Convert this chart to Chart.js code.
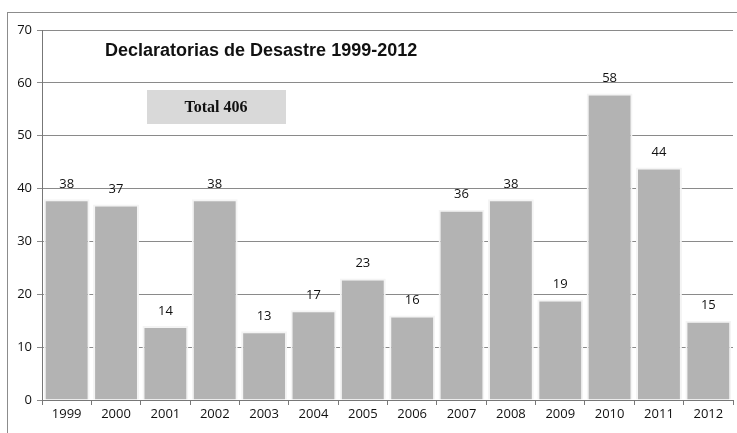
<!DOCTYPE html>
<html>
<head>
<meta charset="utf-8">
<script src="https://cdn.jsdelivr.net/npm/chart.js@4"></script>
<style>
  html, body { margin: 0; padding: 0; background: #fff; }
  #wrap { width: 737px; height: 433px; position: relative; }
</style>
</head>
<body>
<div id="wrap"><canvas id="myChart"></canvas></div>
<script>
var years = ["1999", "2000", "2001", "2002", "2003", "2004", "2005",
  "2006", "2007", "2008", "2009", "2010", "2011", "2012"];
var declaratorias = [38, 37, 14, 38, 13, 17, 23, 16, 36, 38, 19, 58, 44, 15];
var chartTitle = "Declaratorias de Desastre 1999-2012";
var totalText = "Total 406";

// frame, title, total box and value labels
var extras = {
  id: "extras",
  beforeDraw: function (chart) {
    var c = chart.ctx;
    c.save();
    c.strokeStyle = "#8c8c8c";
    c.lineWidth = 1;
    c.strokeRect(7.5, 12.5, 760, 440);
    c.restore();
  },
  afterDatasetsDraw: function (chart) {
    var c = chart.ctx;
    var meta = chart.getDatasetMeta(0);
    c.save();
    c.fillStyle = "#111";
    c.font = "13px 'Open Sans', sans-serif";
    c.textAlign = "center";
    c.textBaseline = "middle";
    meta.data.forEach(function (bar, i) {
      c.fillText(declaratorias[i], bar.x, bar.y - 15);
    });

    c.font = "bold 18px 'Liberation Sans', sans-serif";
    c.textAlign = "left";
    c.fillText(chartTitle, 105, 51);

    c.fillStyle = "#d9d9d9";
    c.fillRect(147, 90, 139, 34);
    c.fillStyle = "#111";
    c.font = "bold 16px 'Liberation Serif', serif";
    c.textAlign = "center";
    c.fillText(totalText, 216, 108);
    c.restore();
  }
};

var ctx = document.getElementById("myChart").getContext("2d");
var myChart = new Chart(ctx, {
  type: "bar",
  data: {
    labels: years,
    datasets: [
      {
        label: "Declaratorias",
        data: declaratorias,
        backgroundColor: "#b3b3b3",
        borderColor: "#f4f4f4",
        borderWidth: 2,
        categoryPercentage: 1,
        barPercentage: 0.93,
      },
    ],
  },
  options: {
    responsive: true,
    maintainAspectRatio: false,
    animation: false,
    layout: { padding: { left: 8, top: 30, right: 4, bottom: 8 } },
    plugins: {
      legend: { display: false },
      tooltip: { enabled: false },
    },
    scales: {
      x: {
        grid: {
          display: true,
          drawOnChartArea: false,
          offset: true,
          color: "#777",
          tickLength: 5,
        },
        border: { color: "#777" },
        ticks: {
          color: "#111",
          font: { size: 13, family: "'Open Sans', sans-serif" },
          padding: 1,
          maxRotation: 0,
        },
        afterFit: function (s) { s.height = 25; },
      },
      y: {
        min: 0,
        max: 70,
        ticks: {
          stepSize: 10,
          color: "#111",
          font: { size: 13, family: "'Open Sans', sans-serif" },
          padding: 5,
        },
        grid: { color: "#8a8a8a", tickLength: 5 },
        border: { color: "#777" },
        afterFit: function (s) { s.width = 34; },
      },
    },
  },
  plugins: [extras],
});
</script>
</body>
</html>
